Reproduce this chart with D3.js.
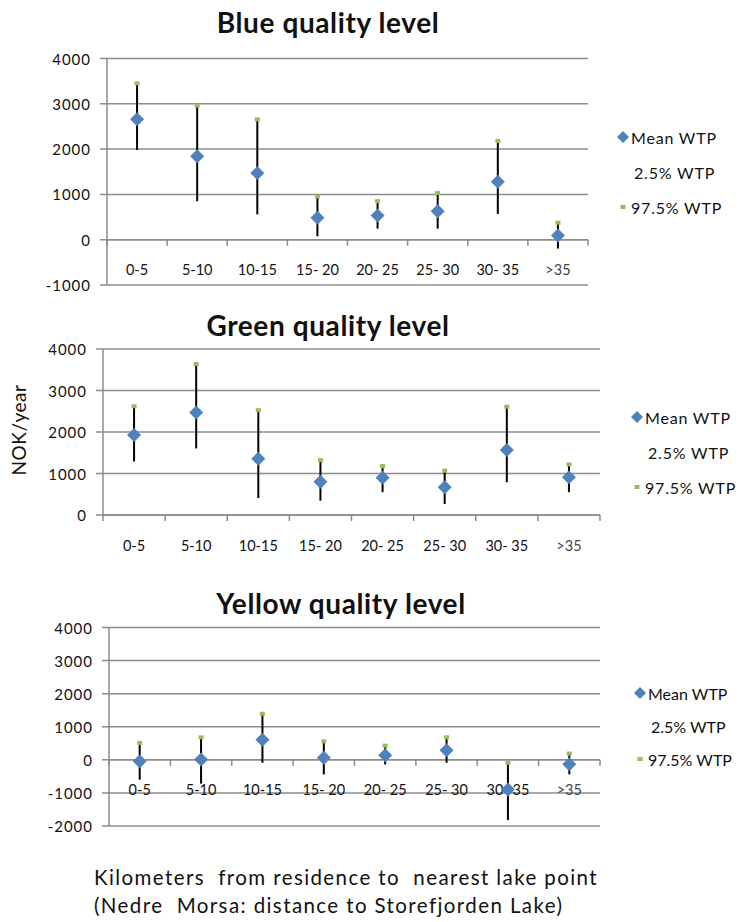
<!DOCTYPE html>
<html>
<head>
<meta charset="utf-8">
<script src="https://cdn.jsdelivr.net/npm/d3@7"></script>
<style>
  html, body { margin: 0; padding: 0; background: #fff; }
  svg { display: block; }
  text { font-family: Lato, "Open Sans", sans-serif; fill: #111; }
</style>
</head>
<body>
<svg id="chart" width="740" height="922"></svg>
<script>
// ---- data ----
const categories = ["0-5", "5-10", "10-15", "15- 20", "20- 25", "25- 30", "30- 35", ">35"];

const blueMean = [2660, 1840, 1470, 485, 535, 630, 1280, 95];
const blueLow  = [1980, 850, 560, 75, 245, 245, 570, -195];
const blueHigh = [3450, 2960, 2655, 955, 850, 1030, 2180, 375];

const greenMean = [1930, 2470, 1355, 800, 895, 670, 1565, 910];
const greenLow  = [1290, 1605, 410, 345, 550, 265, 790, 550];
const greenHigh = [2620, 3640, 2525, 1320, 1180, 1070, 2610, 1220];

const yellowMean = [-45, 10, 610, 60, 140, 290, -895, -130];
const yellowLow  = [-600, -720, -90, -440, -140, -90, -1820, -440];
const yellowHigh = [510, 680, 1395, 560, 430, 680, -90, 190];

const blueTicks = [-1000, 0, 1000, 2000, 3000, 4000];
const greenTicks = [0, 1000, 2000, 3000, 4000];
const yellowTicks = [-2000, -1000, 0, 1000, 2000, 3000, 4000];

const legendLabels = ["Mean WTP", "2.5% WTP", "97.5% WTP"];
const titles = ["Blue quality level", "Green quality level", "Yellow quality level"];
const yAxisTitle = "NOK/year";
const xAxisTitle = ["Kilometers  from residence to  nearest lake point", "(Nedre  Morsa: distance to Storefjorden Lake)"];

// ---- layout ----
const svg = d3.select("#chart");
const meanColor = "#4F81BD";
const highColor = "#9BBB59";
const gridColor = "#8c8c8c";

const panels = [
  { title: titles[0], mean: blueMean, low: blueLow, high: blueHigh, ticks: blueTicks,
    domain: [-1000, 4000], left: 107, right: 588, top: 58.5, bottom: 285, titleX: 328, titleY: 22,
    legendX: 623, legendY: 137, legendDy: 35, legendSpacing: 0.8 },
  { title: titles[1], mean: greenMean, low: greenLow, high: greenHigh, ticks: greenTicks,
    domain: [0, 4000], left: 103, right: 600, top: 349, bottom: 515, titleX: 328, titleY: 325,
    legendX: 637, legendY: 417, legendDy: 35, legendSpacing: 0.8 },
  { title: titles[2], mean: yellowMean, low: yellowLow, high: yellowHigh, ticks: yellowTicks,
    domain: [-2000, 4000], left: 109, right: 600, top: 627.5, bottom: 826, titleX: 341, titleY: 603,
    legendX: 640, legendY: 693, legendDy: 33, legendSpacing: 0 }
];

function diamond(r) {
  return `M0,${-r}L${r},0L0,${r}L${-r},0Z`;
}

panels.forEach(p => {
  const g = svg.append("g");
  const x = d3.scaleBand().domain(categories).range([p.left, p.right]).padding(0);
  const y = d3.scaleLinear().domain(p.domain).range([p.bottom, p.top]);

  // title
  g.append("text")
    .attr("x", p.titleX).attr("y", p.titleY)
    .attr("text-anchor", "middle").attr("dominant-baseline", "central")
    .style("font-size", "28px").style("font-weight", "bold")
    .style("letter-spacing", "0.6px")
    .text(p.title);

  // gridlines
  g.append("g").selectAll("line").data(p.ticks).join("line")
    .attr("x1", p.left - 7).attr("x2", p.right)
    .attr("y1", d => y(d)).attr("y2", d => y(d))
    .attr("stroke", gridColor).attr("stroke-width", 1.5);

  // y axis line
  g.append("line")
    .attr("x1", p.left).attr("x2", p.left)
    .attr("y1", y(p.domain[0])).attr("y2", y(p.domain[1]))
    .attr("stroke", gridColor).attr("stroke-width", 1.5);

  // y tick labels
  g.append("g").selectAll("text").data(p.ticks).join("text")
    .attr("x", p.left - 16).attr("y", d => y(d))
    .attr("text-anchor", "end").attr("dominant-baseline", "central")
    .style("font-size", "15px").style("letter-spacing", "1px")
    .text(d => d);

  // x axis at 0 with ticks
  const y0 = y(0);
  g.append("line")
    .attr("x1", p.left).attr("x2", p.right)
    .attr("y1", y0).attr("y2", y0)
    .attr("stroke", gridColor).attr("stroke-width", 1.5);
  const bounds = categories.map(c => x(c)).concat([p.right]);
  g.append("g").selectAll("line").data(bounds).join("line")
    .attr("x1", d => d).attr("x2", d => d)
    .attr("y1", y0).attr("y2", y0 + 6)
    .attr("stroke", gridColor).attr("stroke-width", 1.5);

  // category labels
  g.append("g").selectAll("text").data(categories).join("text")
    .attr("x", d => x(d) + x.bandwidth() / 2).attr("y", y0 + 30)
    .attr("text-anchor", "middle").attr("dominant-baseline", "central")
    .style("font-size", "14.5px")
    .style("fill", d => d === ">35" ? "#444" : "#111")
    .text(d => d);

  // error bars
  const cx = i => x(categories[i]) + x.bandwidth() / 2;
  g.append("g").selectAll("line").data(p.mean).join("line")
    .attr("x1", (d, i) => cx(i)).attr("x2", (d, i) => cx(i))
    .attr("y1", (d, i) => y(p.low[i])).attr("y2", (d, i) => y(p.high[i]))
    .attr("stroke", "#000").attr("stroke-width", 2);

  // 97.5% markers
  g.append("g").selectAll("rect").data(p.high).join("rect")
    .attr("x", (d, i) => cx(i) - 2.5).attr("y", d => y(d) - 2)
    .attr("width", 5).attr("height", 4)
    .attr("fill", highColor);

  // mean diamonds
  g.append("g").selectAll("path").data(p.mean).join("path")
    .attr("transform", (d, i) => `translate(${cx(i)},${y(d)})`)
    .attr("d", diamond(7))
    .attr("fill", meanColor);

  // legend
  const lg = g.append("g");
  lg.append("path")
    .attr("transform", `translate(${p.legendX},${p.legendY})`)
    .attr("d", diamond(6)).attr("fill", meanColor);
  lg.append("rect")
    .attr("x", p.legendX - 2.5).attr("y", p.legendY + 2 * p.legendDy - 2)
    .attr("width", 5).attr("height", 4).attr("fill", highColor);
  legendLabels.forEach((t, i) => {
    lg.append("text")
      .attr("x", p.legendX + (i === 1 ? 11 : 8)).attr("y", p.legendY + i * p.legendDy)
      .attr("dominant-baseline", "central")
      .style("font-size", "16px").style("letter-spacing", p.legendSpacing + "px")
      .text(t);
  });
});

// y axis title
svg.append("text")
  .attr("transform", "translate(18,430) rotate(-90)")
  .attr("text-anchor", "middle").attr("dominant-baseline", "central")
  .style("font-size", "19px").style("letter-spacing", "0.5px")
  .text(yAxisTitle);

// x axis title (two lines)
svg.append("g").selectAll("text").data(xAxisTitle).join("text")
  .attr("x", 94).attr("y", (d, i) => 877 + i * 28)
  .attr("dominant-baseline", "central")
  .style("font-size", "20.5px").style("letter-spacing", "1.4px")
  .attr("xml:space", "preserve")
  .text(d => d);
</script>
</body>
</html>
